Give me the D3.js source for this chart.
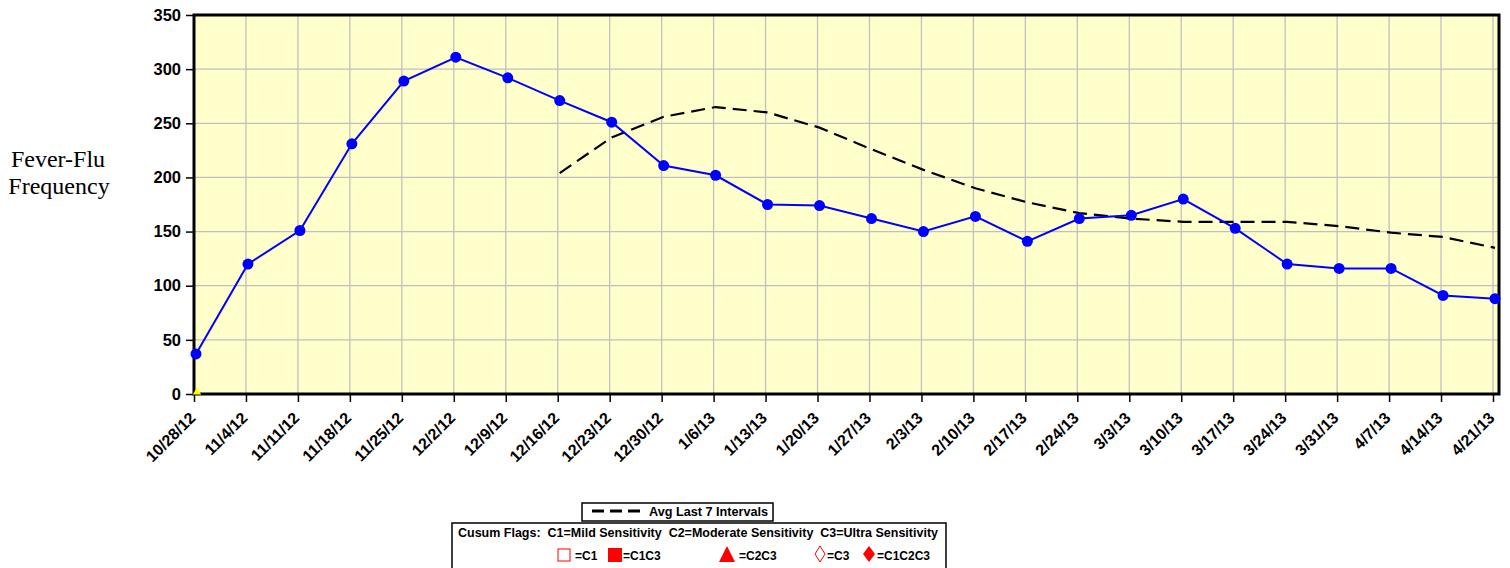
<!DOCTYPE html>
<html>
<head>
<meta charset="utf-8">
<script src="https://cdn.jsdelivr.net/npm/d3@7"></script>
<style>
  body { margin: 0; background: #fff; }
  svg text { font-family: Arial, "Liberation Sans", sans-serif; }
</style>
</head>
<body>
<div class="chart"></div>
<script>
let dates = ["10/28/12","11/4/12","11/11/12","11/18/12","11/25/12","12/2/12","12/9/12","12/16/12",
    "12/23/12","12/30/12","1/6/13","1/13/13","1/20/13","1/27/13","2/3/13","2/10/13","2/17/13",
    "2/24/13","3/3/13","3/10/13","3/17/13","3/24/13","3/31/13","4/7/13","4/14/13","4/21/13"];
let counts = [37,120,151,231,289,311,292,271,251,211,202,175,174,162,150,164,141,162,165,180,153,120,116,116,91,88];
let avg7 = [null,null,null,null,null,null,null,204,237,256,265,260,246,226,207,190,177,167,162,159,159,159,155,149,145,135];
let flagC2C3 = [0];   // yellow marker sitting on zero at the first week
let yTicks = [0,50,100,150,200,250,300,350];

let width = 1510, height = 568;
let plotLeft = 194, plotRight = 1499, plotTop = 15, plotBottom = 394;

let svg = d3.select(".chart").append("svg").attr("width", width).attr("height", height);

let x = d3.scalePoint().domain(dates).range([plotLeft + 2, plotRight - 4]);
let y = d3.scaleLinear().domain([0, 350]).range([plotBottom, plotTop]);

svg.append("rect").attr("x", plotLeft).attr("y", plotTop).attr("width", plotRight - plotLeft).attr("height", plotBottom - plotTop)
    .style("fill", "#ffffcc");

// grid
svg.append("g").selectAll("line").data(yTicks.slice(1, -1)).enter().append("line")
    .attr("x1", plotLeft).attr("x2", plotRight).attr("y1", d => y(d)).attr("y2", d => y(d))
    .style("stroke", "#c0c0c0").style("stroke-width", 1.3);
svg.append("g").selectAll("line").data(dates.slice(1)).enter().append("line")
    .attr("x1", d => x(d) - 2).attr("x2", d => x(d) - 2).attr("y1", plotTop).attr("y2", plotBottom)
    .style("stroke", "#c0c0c0").style("stroke-width", 1.3);

// axes
let yAxis = svg.append("g").attr("transform", `translate(${plotLeft},0)`)
    .call(d3.axisLeft(y).tickValues(yTicks).tickSize(8).tickPadding(5));
yAxis.select(".domain").remove();
yAxis.selectAll("line").style("stroke", "#000").style("stroke-width", 1.5);
yAxis.selectAll("text").style("font-size", "16.5px").style("font-weight", "bold").style("fill", "#000");

let xAxis = svg.append("g").attr("transform", `translate(-2,${plotBottom})`)
    .call(d3.axisBottom(x).tickSize(8));
xAxis.select(".domain").remove();
xAxis.selectAll("line").style("stroke", "#000").style("stroke-width", 1.5);
xAxis.selectAll("text").style("font-size", "16px").style("font-weight", "bold").style("fill", "#000")
    .style("text-anchor", "end")
    .attr("x", 0).attr("y", 0).attr("dy", "0.35em")
    .attr("transform", "translate(-2,21) rotate(-45)");

svg.append("rect").attr("x", plotLeft).attr("y", plotTop).attr("width", plotRight - plotLeft).attr("height", plotBottom - plotTop)
    .style("fill", "none").style("stroke", "#000").style("stroke-width", 3);

// avg line
let avgLine = d3.line().defined(d => d != null).x((d, i) => x(dates[i])).y(d => y(d));
svg.append("path").datum(avg7).attr("d", avgLine)
    .style("fill", "none").style("stroke", "#000").style("stroke-width", 2.2).style("stroke-dasharray", "14,7");

// counts
let line = d3.line().x((d, i) => x(dates[i])).y(d => y(d));
svg.append("path").datum(counts).attr("d", line)
    .style("fill", "none").style("stroke", "#0000ff").style("stroke-width", 2);
svg.append("g").selectAll("circle").data(counts).enter().append("circle")
    .attr("cx", (d, i) => x(dates[i])).attr("cy", d => y(d)).attr("r", 5.5).style("fill", "#0000ff");

svg.append("g").selectAll("path").data(flagC2C3).enter().append("path")
    .attr("d", d3.symbol().type(d3.symbolTriangle).size(30))
    .attr("transform", (d, i) => `translate(${x(dates[i]) + 1},${y(d) - 2})`)
    .style("fill", "#ffff00");

// y title
svg.append("text").attr("x", 58).attr("y", 167).attr("text-anchor", "middle")
    .style("font-family", "'Liberation Serif', 'Times New Roman', serif").style("font-size", "24px").text("Fever-Flu");
svg.append("text").attr("x", 59).attr("y", 194).attr("text-anchor", "middle")
    .style("font-family", "'Liberation Serif', 'Times New Roman', serif").style("font-size", "24px").text("Frequency");

// legend 1
let lg = svg.append("g");
lg.append("rect").attr("x", 582).attr("y", 503).attr("width", 191).attr("height", 18)
    .style("fill", "#fff").style("stroke", "#000").style("stroke-width", 1.5);
lg.append("line").attr("x1", 592).attr("x2", 640).attr("y1", 511).attr("y2", 511)
    .style("stroke", "#000").style("stroke-width", 3).style("stroke-dasharray", "12,6");
lg.append("text").attr("x", 649).attr("y", 516).style("font-size", "12px").style("font-weight", "bold")
    .attr("textLength", 119).attr("lengthAdjust", "spacingAndGlyphs")
    .text("Avg Last 7 Intervals");

// legend 2
let lg2 = svg.append("g");
lg2.append("rect").attr("x", 452).attr("y", 523).attr("width", 494).attr("height", 46)
    .style("fill", "#fff").style("stroke", "#000").style("stroke-width", 1.5);
lg2.append("text").attr("x", 458).attr("y", 537).style("font-size", "12px").style("font-weight", "bold")
    .attr("xml:space", "preserve").attr("textLength", 480).attr("lengthAdjust", "spacingAndGlyphs")
    .text("Cusum Flags:  C1=Mild Sensitivity  C2=Moderate Sensitivity  C3=Ultra Sensitivity");

let sy = 555;
lg2.append("rect").attr("x", 558).attr("y", sy - 6).attr("width", 12).attr("height", 12)
    .style("fill", "#fff").style("stroke", "#ff0000").style("stroke-width", 1);
lg2.append("rect").attr("x", 608).attr("y", sy - 7).attr("width", 14).attr("height", 14).style("fill", "#ff0000");
lg2.append("path").attr("d", `M${719},${sy + 7}L${727},${sy - 9}L${735},${sy + 7}Z`).style("fill", "#ff0000");
lg2.append("path").attr("d", `M${820},${sy - 9}L${825},${sy - 1}L${820},${sy + 7}L${815},${sy - 1}Z`)
    .style("fill", "#fff").style("stroke", "#ff0000").style("stroke-width", 1);
lg2.append("path").attr("d", `M${869},${sy - 9}L${875},${sy - 1}L${869},${sy + 7}L${863},${sy - 1}Z`).style("fill", "#ff0000");

let flagLabels = [[575, "=C1"], [623, "=C1C3"], [739, "=C2C3"], [827, "=C3"], [877, "=C1C2C3"]];
lg2.selectAll(".fl").data(flagLabels).enter().append("text")
    .attr("x", d => d[0]).attr("y", 560).style("font-size", "12px").style("font-weight", "bold")
    .text(d => d[1]);
</script>
</body>
</html>
